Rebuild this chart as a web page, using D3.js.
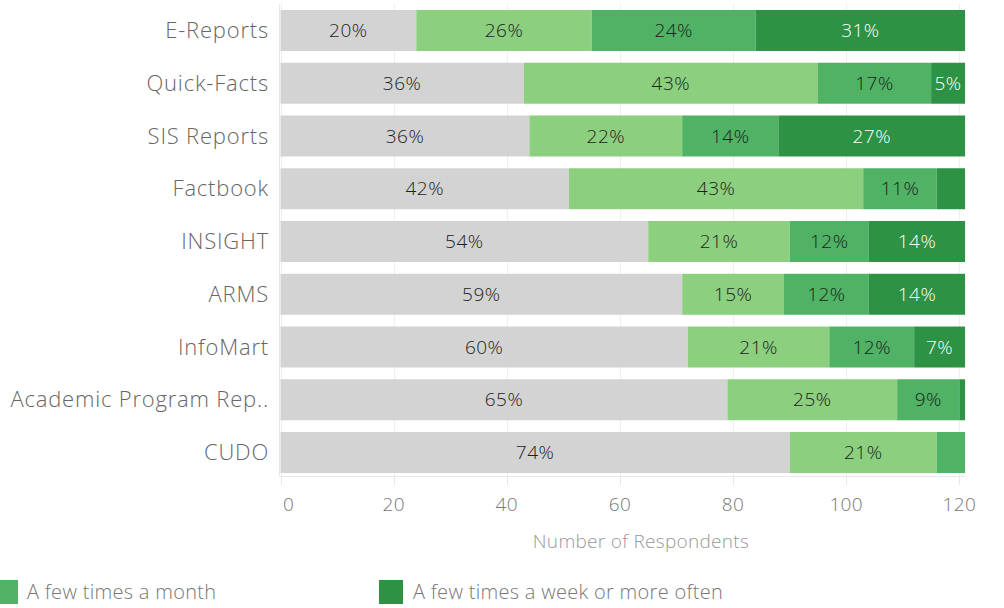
<!DOCTYPE html>
<html><head><meta charset="utf-8">
<script src="https://cdn.jsdelivr.net/npm/d3@7"></script>
<style>
body{margin:0;background:#fff;}
svg{display:block;font-family:"Open Sans",sans-serif;font-weight:300;}
</style></head>
<body>
<svg id="c" width="1004" height="608"></svg>
<script>
const categories = ["E-Reports","Quick-Facts","SIS Reports","Factbook","INSIGHT","ARMS","InfoMart","Academic Program Rep..","CUDO"];
const seriesNames = ["Never or rarely","A few times a semester","A few times a month","A few times a week or more often"];
const neverRarely   = [24, 43, 44, 51, 65, 71, 72, 79, 90];
const fewSemester   = [31, 52, 27, 52, 25, 18, 25, 30, 26];
const fewMonth      = [29, 20, 17, 13, 14, 15, 15, 11, 5];
const fewWeek       = [37, 6, 33, 5, 17, 17, 9, 1, 0];
const xTicks = [0, 20, 40, 60, 80, 100, 120];
const legendShown = ["A few times a month","A few times a week or more often"];

const colors = ["#d3d3d3","#8bcf7f","#50b264","#2e9244"];
const labelColors = ["#1e1e1e","#1e1e1e","#1e1e1e","#fff"];

const svg = d3.select("#c");
const x = d3.scaleLinear().domain([0,120]).range([280.5, 959.4]);
const y = d3.scaleBand().domain(categories).range([4.1, 478.9]).paddingInner(0.223).paddingOuter(0.1115);

svg.append("g").selectAll("line").data(xTicks).join("line")
  .attr("x1", d=>Math.round(x(d))+0.5).attr("x2", d=>Math.round(x(d))+0.5)
  .attr("y1", 4).attr("y2", 476)
  .attr("stroke", "#efefef").attr("stroke-width", 1.2);

svg.append("line").attr("x1",279.5).attr("x2",965).attr("y1",476.5).attr("y2",476.5)
  .attr("stroke","#e8e8e8").attr("stroke-width",1);
svg.append("line").attr("x1",279.5).attr("x2",279.5).attr("y1",4).attr("y2",476.5)
  .attr("stroke","#e8e8e8").attr("stroke-width",1);

const data = categories.map((c,i)=>({cat:c, v:[neverRarely[i],fewSemester[i],fewMonth[i],fewWeek[i]]}));
const stack = d3.stack().keys([0,1,2,3]).value((d,k)=>d.v[k]);
const series = stack(data);
const total = d => d3.sum(d.v);

const g = svg.append("g");
series.forEach((s,k)=>{
  g.append("g").selectAll("rect").data(s).join("rect")
    .attr("x", d=>x(d[0])).attr("width", d=>x(d[1])-x(d[0]))
    .attr("y", d=>y(d.data.cat)).attr("height", y.bandwidth())
    .attr("fill", colors[k]);
  g.append("g").selectAll("text").data(s.filter(d=>x(d[1])-x(d[0])>=30)).join("text")
    .attr("x", d=>(x(d[0])+x(d[1]))/2).attr("y", d=>y(d.data.cat)+y.bandwidth()/2)
    .attr("dy","0.35em").attr("text-anchor","middle")
    .attr("font-size",19).attr("letter-spacing",0.5).attr("fill",labelColors[k])
    .text(d=>Math.round((d[1]-d[0])/total(d.data)*100)+"%");
});

svg.append("g").selectAll("text").data(categories).join("text")
  .attr("x", 269).attr("y", d=>y(d)+y.bandwidth()/2).attr("dy","0.35em")
  .attr("text-anchor","end").attr("font-size",22).attr("letter-spacing",0.8).attr("fill","#666")
  .text(d=>d);

const xt = svg.append("g");
xt.selectAll("line").data(xTicks).join("line")
  .attr("x1", d=>Math.round(x(d))+0.5).attr("x2", d=>Math.round(x(d))+0.5)
  .attr("y1",477).attr("y2",485).attr("stroke","#e8e8e8");
xt.selectAll("text").data(xTicks).join("text")
  .attr("x", d=> d===0 ? x(d)+8 : x(d)).attr("y",504).attr("dy","0.35em")
  .attr("text-anchor","middle").attr("font-size",19).attr("letter-spacing",0.4).attr("fill","#777")
  .text(d=>d);

svg.append("text").attr("x",641).attr("y",541).attr("dy","0.35em")
  .attr("text-anchor","middle").attr("font-size",19).attr("letter-spacing",0.3).attr("fill","#999")
  .text("Number of Respondents");

const legX = [0, 379];
legendShown.forEach((name,i)=>{
  const k = seriesNames.indexOf(name);
  svg.append("rect").attr("x",legX[i]).attr("y",580).attr("width", i===0?18:24).attr("height",24).attr("fill",colors[k]);
  svg.append("text").attr("x",legX[i]+(i===0?27:34)).attr("y",592).attr("dy","0.35em")
    .attr("font-size",20).attr("letter-spacing",0.3).attr("fill","#777").text(name);
});
</script>
</body></html>
